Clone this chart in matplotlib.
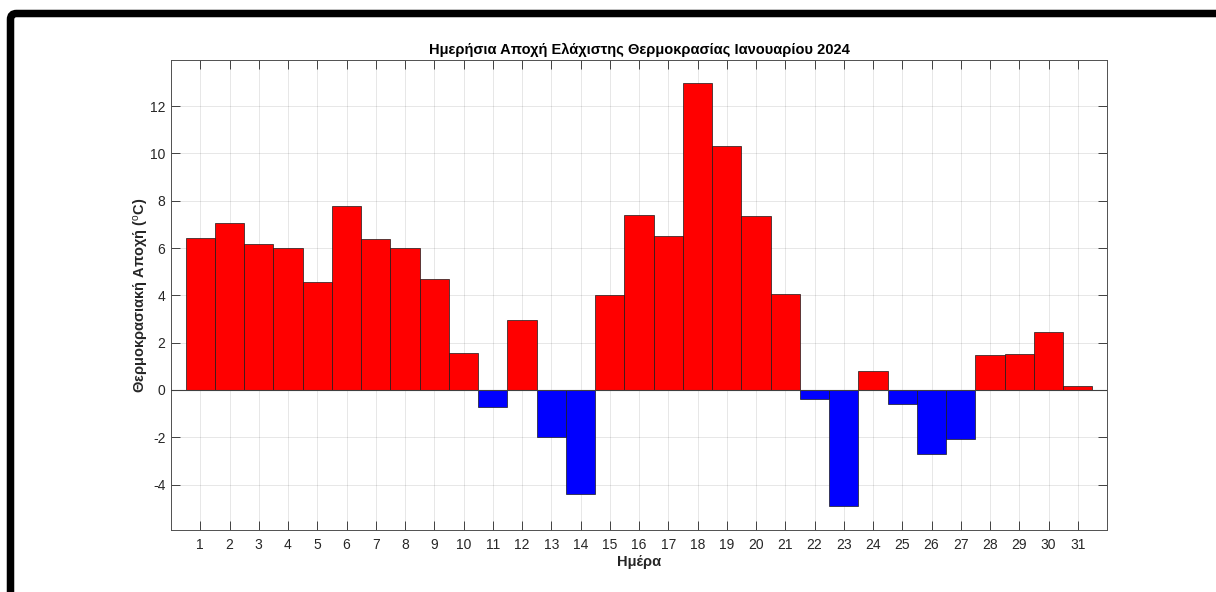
import matplotlib
matplotlib.use("Agg")
import matplotlib.pyplot as plt
from matplotlib.patches import FancyBboxPatch
from matplotlib.transforms import IdentityTransform
import numpy as np

days = list(range(1, 32))
anomaly = [6.43, 7.05, 6.17, 5.99, 4.58, 7.76, 6.39, 5.99, 4.68, 1.55,
           -0.70, 2.96, -2.00, -4.39, 4.01, 7.39, 6.53, 12.96, 10.32, 7.35,
           4.06, -0.39, -4.90, 0.82, -0.61, -2.70, -2.07, 1.46, 1.52, 2.45,
           0.16]
yticks = [-4, -2, 0, 2, 4, 6, 8, 10, 12]
title = "Ημερήσια Αποχή Ελάχιστης Θερμοκρασίας Ιανουαρίου 2024"
xlabel = "Ημέρα"
ylabel = r"Θερμοκρασιακή Αποχή ($^{\rm o}$C)"

plt.rcParams['font.family'] = ['Liberation Sans', 'DejaVu Sans']
plt.rcParams['axes.unicode_minus'] = False
plt.rcParams['mathtext.fontset'] = 'custom'
plt.rcParams['mathtext.rm'] = 'Liberation Sans'
plt.rcParams['mathtext.it'] = 'Liberation Sans:italic'
plt.rcParams['mathtext.bf'] = 'Liberation Sans:bold'

W, H = 1216, 592
fig = plt.figure(figsize=(W / 100, H / 100), dpi=100)
fig.patch.set_facecolor('white')

# black frame (top and left) with rounded corner
frame = FancyBboxPatch((10.5, -60), W + 60, (H - 13.5) + 60,
                       boxstyle="round,pad=0,rounding_size=6",
                       transform=IdentityTransform(), fill=False,
                       edgecolor='black', linewidth=5.4)
fig.add_artist(frame)

ax = fig.add_axes([171 / W, (H - 530) / H, (1107 - 171) / W, (530 - 60) / H])

colors = ['#FF0000' if v >= 0 else '#0000FF' for v in anomaly]
ax.bar(days, anomaly, width=1.0, color=colors, edgecolor='#1a1a1a',
       linewidth=0.5, zorder=3)
ax.axhline(0, color='#404040', linewidth=0.8, zorder=4)

ax.set_xlim(0, 32)
ax.set_ylim(-5.92, 13.95)
ax.set_xticks(days)
ax.set_yticks(yticks)
ax.grid(True, color='#262626', alpha=0.13, linewidth=0.6, zorder=0)
ax.set_axisbelow(True)

ax.tick_params(direction='in', length=6.7, width=0.6, colors='#262626',
               labelsize=10, top=True, right=True)
ax.tick_params(axis='x', pad=6)
ax.tick_params(axis='y', pad=4)
for lab in ax.get_xticklabels() + ax.get_yticklabels():
    lab.set_color('#262626')
for sp in ax.spines.values():
    sp.set_color('#505050')
    sp.set_linewidth(0.7)

ax.set_title(title, fontsize=10.5, fontweight='bold', color='black', pad=4)
ax.set_xlabel(xlabel, fontsize=10.5, fontweight='bold', color='#262626', labelpad=2)
ax.set_ylabel(ylabel, fontsize=10.5, fontweight='bold', color='#262626', labelpad=-1)

fig.savefig('out.png', dpi=100)
